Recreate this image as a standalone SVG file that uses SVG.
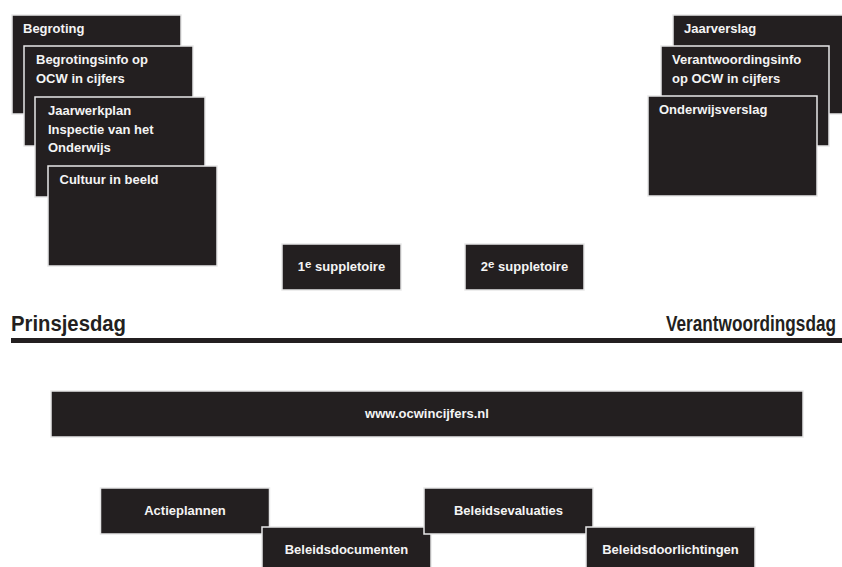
<svg xmlns="http://www.w3.org/2000/svg" width="842" height="567" viewBox="0 0 842 567">
<style>
.box{fill:#231f20;stroke:#e8e8e8;stroke-width:1.5}
.t{font-family:"Liberation Sans",Arial,sans-serif;font-weight:bold;font-size:13px;fill:#f4f4f4}
.c{text-anchor:middle}
.h{font-family:"Liberation Sans",Arial,sans-serif;font-weight:bold;fill:#231f20}
</style>
<rect width="842" height="567" fill="#ffffff"/>
<g id="begroting"><rect class="box" x="12" y="15" width="169" height="99"/><text class="t" x="23" y="33">Begroting</text></g>
<g id="begrotingsinfo"><rect class="box" x="24" y="46" width="169" height="100"/><text class="t" x="36" y="64">Begrotingsinfo op</text><text class="t" x="36" y="83">OCW in cijfers</text></g>
<g id="jaarwerkplan"><rect class="box" x="35" y="97" width="170" height="100"/><text class="t" x="48" y="115">Jaarwerkplan</text><text class="t" x="48" y="133.5">Inspectie van het</text><text class="t" x="48" y="152">Onderwijs</text></g>
<g id="cultuur"><rect class="box" x="48" y="166" width="169" height="100"/><text class="t" x="59.5" y="183.5">Cultuur in beeld</text></g>
<g id="jaarverslag"><rect class="box" x="673" y="15" width="170" height="99"/><text class="t" x="684" y="33">Jaarverslag</text></g>
<g id="verantwoordingsinfo"><rect class="box" x="661" y="46" width="168" height="100"/><text class="t" x="672" y="64">Verantwoordingsinfo</text><text class="t" x="672" y="83">op OCW in cijfers</text></g>
<g id="onderwijsverslag"><rect class="box" x="648" y="96" width="169" height="100"/><text class="t" x="659" y="114">Onderwijsverslag</text></g>
<g id="suppletoire1"><rect class="box" x="282" y="244" width="119" height="46"/><text class="t c" x="341.5" y="271">1<tspan font-size="11.5" dy="-3.5">e</tspan><tspan dy="3.5"> suppletoire</tspan></text></g>
<g id="suppletoire2"><rect class="box" x="465" y="244" width="119" height="46"/><text class="t c" x="524.5" y="271">2<tspan font-size="11.5" dy="-3.5">e</tspan><tspan dy="3.5"> suppletoire</tspan></text></g>
<g id="tijdlijn">
<text class="h" font-size="20" transform="translate(11,331) scale(1,1.08)" x="0" y="0" textLength="115" lengthAdjust="spacingAndGlyphs">Prinsjesdag</text>
<text class="h" font-size="17.2" transform="translate(666,331) scale(1,1.25)" x="0" y="0">Verantwoordingsdag</text>
<rect x="11" y="338" width="831" height="5" fill="#231f20"/>
</g>
<g id="website"><rect class="box" x="51" y="391" width="752" height="46"/><text class="t c" x="427" y="418" font-size="13.5">www.ocwincijfers.nl</text></g>
<g id="actieplannen"><rect class="box" x="100.5" y="488" width="169" height="46"/><text class="t c" x="185" y="515">Actieplannen</text></g>
<g id="beleidsdocumenten"><rect class="box" x="262" y="527" width="169" height="46"/><text class="t c" x="346.5" y="554">Beleidsdocumenten</text></g>
<g id="beleidsevaluaties"><rect class="box" x="424" y="488" width="169" height="46"/><text class="t c" x="508.5" y="515">Beleidsevaluaties</text></g>
<g id="beleidsdoorlichtingen"><rect class="box" x="586" y="527" width="169" height="46"/><text class="t c" x="670.5" y="554">Beleidsdoorlichtingen</text></g>
<g id="connectors"/>
</svg>
